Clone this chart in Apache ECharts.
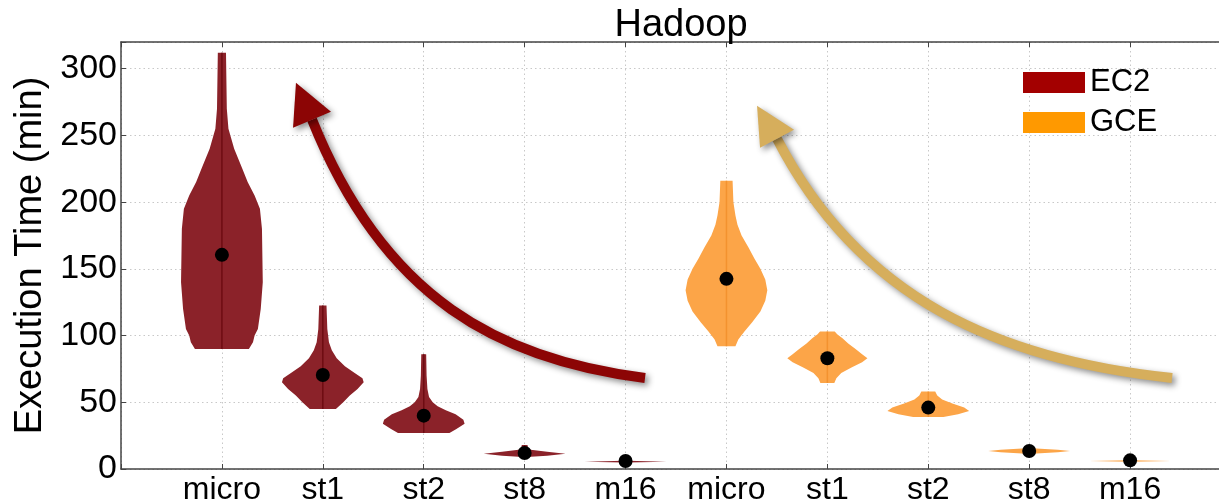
<!DOCTYPE html>
<html>
<head>
<meta charset="utf-8">
<script src="https://cdn.jsdelivr.net/npm/echarts@6/dist/echarts.min.js"></script>
<style>
  html, body { margin: 0; padding: 0; background: #fff; }
  #main { width: 1219px; height: 504px; }
</style>
</head>
<body>
<div id="main"></div>
<script>
var categories = ['micro', 'st1', 'st2', 'st8', 'm16', 'micro', 'st1', 'st2', 'st8', 'm16'];
var yTicks = [0, 50, 100, 150, 200, 250, 300];

// mean values (black dots)
var ec2Mean = [160.5, 70.5, 40, 12, 6];
var gceMean = [142.5, 83, 46, 13.5, 6.5];

// violin outlines: [value, relative half width]
var ec2Shapes = [
  [[90, 0.66], [95, 0.76], [100, 0.8], [105, 0.88], [120, 0.95], [140, 1], [180, 0.98], [195, 0.93], [205, 0.8], [215, 0.63], [225, 0.5], [240, 0.3], [255, 0.16], [270, 0.12], [312, 0.1]],
  [[45, 0.32], [50, 0.5], [55, 0.66], [60, 0.85], [65, 1], [68, 0.97], [72, 0.78], [77, 0.54], [83, 0.34], [89, 0.22], [95, 0.15], [105, 0.11], [122.5, 0.09]],
  [[27, 0.63], [30, 0.8], [34, 1], [37, 0.97], [41, 0.78], [44, 0.54], [47, 0.34], [50, 0.22], [54, 0.13], [60, 0.09], [70, 0.07], [86, 0.06]],
  [[9, 0.05], [10, 0.55], [11.5, 1], [13, 0.55], [14.5, 0.15], [16, 0.08], [18, 0.07]],
  [[4.8, 0.04], [5.5, 1], [6.2, 0.04]]
];
var gceShapes = [
  [[92, 0.22], [97, 0.29], [103, 0.44], [110, 0.63], [118, 0.83], [126, 0.95], [134, 1], [142, 0.95], [150, 0.83], [158, 0.68], [166, 0.54], [175, 0.37], [183, 0.27], [190, 0.22], [200, 0.17], [216, 0.15]],
  [[64.5, 0.17], [68, 0.22], [72, 0.34], [76, 0.59], [80, 0.85], [83, 0.98], [86, 0.85], [90, 0.69], [94, 0.51], [98, 0.37], [101, 0.24], [103, 0.18]],
  [[39, 0.37], [41, 0.73], [43.5, 1], [46, 0.88], [49, 0.59], [52, 0.34], [55, 0.22], [58, 0.17]],
  [[11.5, 0.07], [12.5, 0.7], [13.5, 1], [14.5, 0.7], [15.5, 0.07]],
  [[5.4, 0.04], [6, 1], [6.6, 0.04]]
];

// annotation arrows in data coords: start, ctrl1, ctrl2, end, then head triangle
var ec2Arrow = [[5.193, 68.25], [3.766, 81.75], [2.607, 126.75], [1.893, 261.75]];
var ec2Head = [[1.734, 289.5], [2.081, 267.75], [1.705, 255.75]];
var gceArrow = [[10.416, 68.25], [8.712, 81.75], [7.324, 126.75], [6.501, 247.5]];
var gceHead = [[6.303, 272.25], [6.67, 254.25], [6.333, 240.75]];

var font = '"Liberation Sans", Arial, sans-serif';
var maxHalf = 0.405;

function violinRender (shapes, fill, mid) {
  return function (params, api) {
    var shape = shapes[params.dataIndex];
    var cx = api.value(0);
    var pts = [];
    shape.forEach(function (p) { pts.push(api.coord([cx + p[1] * maxHalf, p[0]])); });
    for (var i = shape.length - 1; i >= 0; i--) {
      pts.push(api.coord([cx - shape[i][1] * maxHalf, shape[i][0]]));
    }
    var bot = api.coord([cx, shape[0][0]]);
    var top = api.coord([cx, shape[shape.length - 1][0]]);
    return {
      type: 'group',
      children: [
        { type: 'polygon', shape: { points: pts }, style: { fill: fill } },
        { type: 'line', shape: { x1: bot[0], y1: bot[1], x2: top[0], y2: top[1] },
          style: { stroke: mid, lineWidth: 1.5 } }
      ]
    };
  };
}

function arrowRender (params, api) {
  var list = params.dataIndex === 0 ? [ec2Arrow, ec2Head, '#8c0505'] : [gceArrow, gceHead, '#d6ae5c'];
  var c = list[0].map(function (p) { return api.coord(p); });
  var h = list[1].map(function (p) { return api.coord(p); });
  var shadow = { shadowBlur: 6, shadowColor: 'rgba(0,0,0,0.45)', shadowOffsetX: 3, shadowOffsetY: 3 };
  return {
    type: 'group',
    children: [
      { type: 'bezierCurve',
        shape: { x1: c[0][0], y1: c[0][1], cpx1: c[1][0], cpy1: c[1][1], cpx2: c[2][0], cpy2: c[2][1], x2: c[3][0], y2: c[3][1] },
        style: Object.assign({ stroke: list[2], lineWidth: 10, fill: null }, shadow) },
      { type: 'polygon', shape: { points: h }, style: Object.assign({ fill: list[2] }, shadow) }
    ]
  };
}

var ec2Pos = [1, 2, 3, 4, 5];
var gcePos = [6, 7, 8, 9, 10];

var chart = echarts.init(document.getElementById('main'));
var axisCommon = {
  type: 'value', min: 0, max: 11, interval: 1,
  axisLine: { lineStyle: { color: '#444', width: 1.5 } },
  axisTick: { inside: true, length: 5, lineStyle: { color: '#444' } }
};
chart.setOption({
  animation: false,
  title: {
    text: 'Hadoop', left: 676, textAlign: 'center', top: 2,
    textStyle: { fontFamily: font, fontSize: 38, fontWeight: 'normal', color: '#000' }
  },
  legend: {
    data: [
      { name: 'EC2', icon: 'rect', itemStyle: { color: '#a30000', borderWidth: 0 } },
      { name: 'GCE', icon: 'rect', itemStyle: { color: '#ff9900', borderWidth: 0 } }
    ],
    orient: 'vertical', left: 1018, top: 62,
    itemWidth: 62, itemHeight: 21, itemGap: 9,
    itemStyle: { borderWidth: 0 }, lineStyle: { width: 0 },
    textStyle: { fontFamily: font, fontSize: 31, color: '#000' }
  },
  grid: { left: 121, top: 42, right: -12, bottom: 35, containLabel: false, outerBoundsMode: 'none' },
  xAxis: [
    Object.assign({}, axisCommon, {
      position: 'bottom',
      axisLabel: {
        fontFamily: font, fontSize: 32, color: '#000', margin: 5,
        formatter: function (v) { return categories[v - 1] || ''; }
      },
      splitLine: { show: true, lineStyle: { type: [1.5, 3], color: '#c8c8c8' } }
    }),
    Object.assign({}, axisCommon, { position: 'top', axisLabel: { show: false }, splitLine: { show: false } })
  ],
  yAxis: {
    type: 'value', min: 0, max: 320, interval: 50,
    name: 'Execution Time (min)', nameLocation: 'middle', nameGap: 68, nameRotate: 90,
    nameTextStyle: { fontFamily: font, fontSize: 38, color: '#000' },
    axisLine: { show: true, lineStyle: { color: '#444', width: 1.5 } },
    axisTick: { show: true, inside: true, length: 5, lineStyle: { color: '#444' } },
    axisLabel: {
      fontFamily: font, fontSize: 34, color: '#000', margin: 4,
      formatter: function (v) { return yTicks.indexOf(v) >= 0 ? String(v) : ''; }
    },
    splitLine: { show: true, lineStyle: { type: [1.5, 3], color: '#c8c8c8' } }
  },
  series: [
    {
      name: 'EC2', type: 'custom', color: '#a30000',
      renderItem: violinRender(ec2Shapes, '#8b2229', '#6e0c12'),
      data: ec2Pos.map(function (x) { return [x]; }), z: 2
    },
    {
      name: 'GCE', type: 'custom', color: '#ff9900',
      renderItem: violinRender(gceShapes, '#fca548', '#f3922f'),
      data: gcePos.map(function (x) { return [x]; }), z: 2
    },
    {
      type: 'scatter', symbolSize: 14, itemStyle: { color: '#000', opacity: 1 }, z: 4,
      data: ec2Pos.map(function (x, i) { return [x, ec2Mean[i]]; })
        .concat(gcePos.map(function (x, i) { return [x, gceMean[i]]; }))
    },
    {
      type: 'custom', renderItem: arrowRender, data: [[0], [1]], z: 5, clip: false
    }
  ]
});
</script>
</body>
</html>
